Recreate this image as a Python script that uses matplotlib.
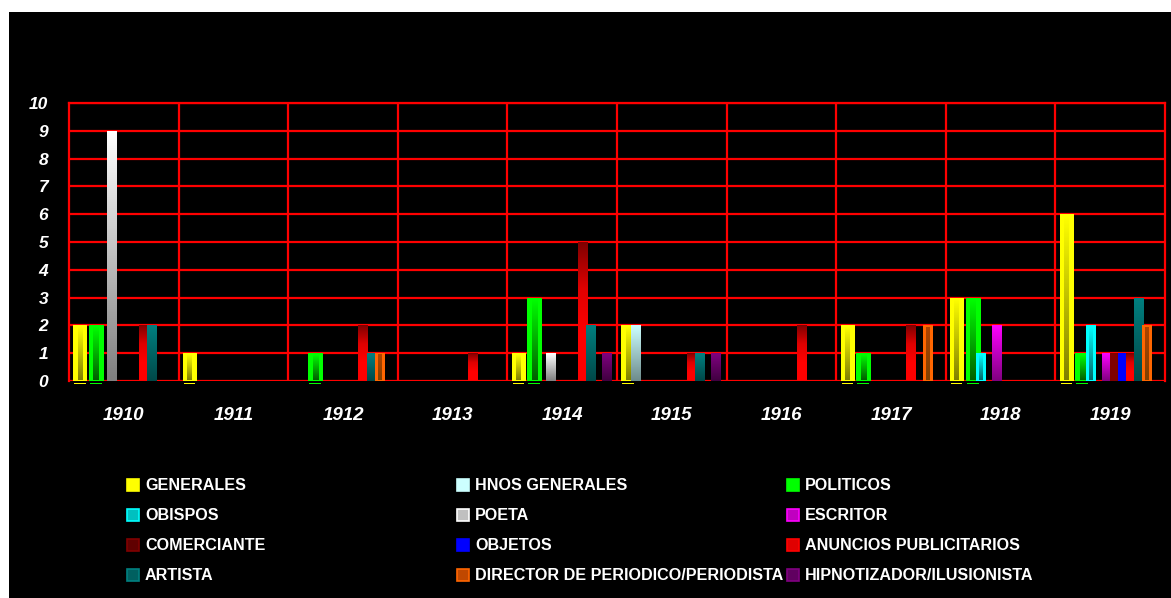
import numpy as np
from matplotlib import pyplot as plt
from matplotlib.colors import LinearSegmentedColormap
from matplotlib.patches import Rectangle

years = ["1910", "1911", "1912", "1913", "1914", "1915", "1916", "1917", "1918", "1919"]
series = ["GENERALES", "HNOS GENERALES", "POLITICOS", "OBISPOS", "POETA", "ESCRITOR",
          "COMERCIANTE", "OBJETOS", "ANUNCIOS PUBLICITARIOS", "ARTISTA",
          "DIRECTOR DE PERIODICO/PERIODISTA", "HIPNOTIZADOR/ILUSIONISTA"]
generales = [2, 1, 0, 0, 1, 2, 0, 2, 3, 6]
hnos_generales = [0, 0, 0, 0, 0, 2, 0, 0, 0, 0]
politicos = [2, 0, 1, 0, 3, 0, 0, 1, 3, 1]
obispos = [0, 0, 0, 0, 0, 0, 0, 0, 1, 2]
poeta = [9, 0, 0, 0, 1, 0, 0, 0, 0, 0]
escritor = [0, 0, 0, 0, 0, 0, 0, 0, 2, 1]
comerciante = [0, 0, 0, 0, 0, 0, 0, 0, 0, 1]
objetos = [0, 0, 0, 0, 0, 0, 0, 0, 0, 1]
anuncios = [2, 0, 2, 1, 5, 1, 2, 2, 0, 1]
artista = [2, 0, 1, 0, 2, 1, 0, 0, 0, 3]
director = [0, 0, 1, 0, 0, 0, 0, 2, 0, 2]
hipnotizador = [0, 0, 0, 0, 1, 1, 0, 0, 0, 0]
values = [generales, hnos_generales, politicos, obispos, poeta, escritor,
          comerciante, objetos, anuncios, artista, director, hipnotizador]

# gradient stops of each bar, bottom -> top
grads = [["#FFFF00", "#FFFF00"], ["#6E8C8C", "#CCFFFF"], ["#00FF00", "#00FF00"],
         ["#00FFFF", "#00FFFF"], ["#808080", "#FFFFFF"], ["#800080", "#FF00FF"],
         ["#800000", "#800000"], ["#0000FF", "#0000FF"],
         ["#FF0000", "#FF0000", "#E00000", "#800000"],
         ["#004848", "#008080"], ["#FF6600", "#FF6600"], ["#400040", "#800080"]]
inner = {0: ["#808000", "#FFFF00"], 2: ["#006000", "#00FF00"],
         3: ["#006A6A", "#00FFFF"], 10: ["#804000", "#B04400"]}
widths = [0.119, 0.084, 0.128, 0.084, 0.09, 0.084, 0.084, 0.084, 0.09, 0.084, 0.084, 0.09]
legend_face = ["#FFFF00", "#CCFFFF", "#00FF00", "#00C0C0", "#C0C0C0", "#C000C0",
               "#600000", "#0000FF", "#E00000", "#006060", "#C04800", "#600060"]
legend_edge = ["#FFFF00", "#CCFFFF", "#00FF00", "#00FFFF", "#FFFFFF", "#FF00FF",
               "#800000", "#0000FF", "#FF0000", "#008080", "#FF6600", "#800080"]

W, H = 1171, 598
fig = plt.figure(figsize=(W / 100, H / 100), dpi=100, facecolor="white")
fig.add_artist(Rectangle((9 / W, 0), 1 - 9 / W, 1 - 12 / H, transform=fig.transFigure,
                         facecolor="black", edgecolor="none", zorder=0))
ax = fig.add_axes([69 / W, 1 - 381 / H, (1165 - 69) / W, (381 - 103) / H])
ax.set_facecolor("black")

x = np.arange(len(years))


def paint(bars, stops, z):
    cmap = LinearSegmentedColormap.from_list("g", stops)
    grad = np.linspace(0, 1, 64).reshape(-1, 1)
    for b in bars:
        h = b.get_height()
        if h <= 0 or not b.get_visible():
            continue
        x0, y0 = b.get_x(), b.get_y()
        im = ax.imshow(grad, cmap=cmap, origin="lower", aspect="auto", zorder=z,
                       extent=(x0, x0 + b.get_width(), y0, y0 + h), interpolation="bilinear")
        im.set_clip_path(b)


for i, vals in enumerate(values):
    off = -0.5 + (11 + 8 * i) / 109.5
    bars = ax.bar(x + off, vals, widths[i], color=grads[i][-1], zorder=3 + i, linewidth=0)
    paint(bars, grads[i], 3 + i + 0.1)
    if i in inner:
        ib = ax.bar(x + off, np.array(vals) - 0.08, widths[i] * 0.38, bottom=0.04,
                    color=inner[i][0], zorder=3 + i + 0.2, linewidth=0)
        for b in ib:
            if b.get_height() <= 0:
                b.set_visible(False)
        paint(ib, inner[i], 3 + i + 0.3)
    if i in (0, 2):
        # thin coloured base under the bar
        v = np.array(vals)
        ax.bar(x[v > 0] + off, -0.05, widths[i] * 0.85, bottom=-0.06,
               color=grads[i][-1], clip_on=False, zorder=3, linewidth=0)

ax.set_xlim(-0.5, 9.5)
ax.set_ylim(0, 10)
ax.set_yticks(range(11))
ax.set_xticks(x)
ax.set_xticklabels(years)
ax.set_xticks(np.arange(0.5, 9.5, 1), minor=True)
ax.grid(True, which="minor", axis="x", color="#FF0000", linewidth=1.6, zorder=1)
ax.grid(True, which="major", axis="y", color="#FF0000", linewidth=1.6, zorder=1)
ax.set_axisbelow(True)
for side in ("left", "right", "top"):
    ax.spines[side].set_color("#FF0000")
    ax.spines[side].set_linewidth(1.6)
ax.spines["bottom"].set_visible(False)
ax.tick_params(which="both", length=0)
ax.tick_params(axis="y", pad=15)
ax.tick_params(axis="x", pad=19)
for lab in ax.get_yticklabels():
    lab.set(color="white", fontweight="bold", fontstyle="italic", fontsize=12.5,
            family="Liberation Sans")
for lab in ax.get_xticklabels():
    lab.set(color="white", fontweight="bold", fontstyle="italic", fontsize=13.5,
            family="Liberation Sans")

# legend, three columns
col_x = [127, 457, 787]
row_y = [485, 515, 545, 575]
for k, name in enumerate(series):
    cx, ry = col_x[k % 3], row_y[k // 3]
    fig.add_artist(Rectangle((cx / W, 1 - (ry + 6) / H), 12 / W, 12 / H,
                             transform=fig.transFigure, facecolor=legend_face[k],
                             edgecolor=legend_edge[k], linewidth=1.2))
    fig.text((cx + 18) / W, 1 - ry / H, name, color="white", fontsize=11.6,
             fontweight="bold", family="Liberation Sans", va="center", ha="left")

plt.savefig("out.png", dpi=100, facecolor=fig.get_facecolor())
